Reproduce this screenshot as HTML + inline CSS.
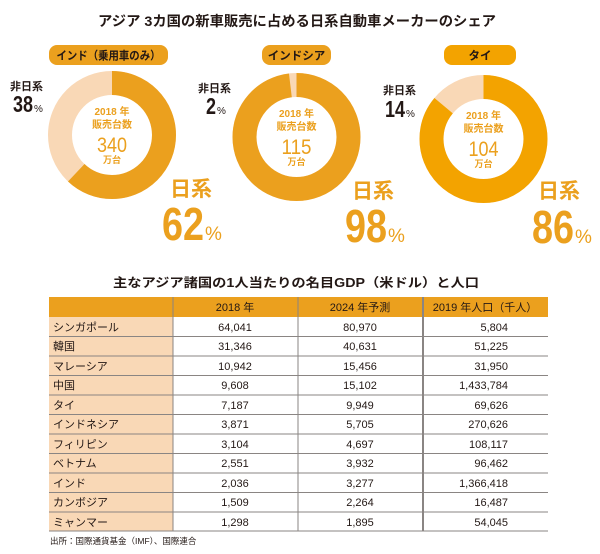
<!DOCTYPE html>
<html><head><meta charset="utf-8"><style>
html,body{margin:0;padding:0;background:#fff;}
svg{display:block;font-family:"Liberation Sans","Noto Sans CJK JP",sans-serif;}
</style></head><body>
<svg width="600" height="554" viewBox="0 0 600 554" xmlns="http://www.w3.org/2000/svg">
<text x="297" y="26" font-size="14" font-weight="bold" text-anchor="middle" fill="#231815" textLength="398" lengthAdjust="spacingAndGlyphs">アジア 3カ国の新車販売に占める日系自動車メーカーのシェア</text>

<!-- pills -->
<rect x="49" y="45" width="119" height="20" rx="8" fill="#EBA01E"/>
<text x="108.5" y="59.5" font-size="11.5" font-weight="bold" text-anchor="middle" fill="#231815" textLength="104" lengthAdjust="spacingAndGlyphs">インド（乗用車のみ）</text>
<rect x="262" y="45" width="69" height="20" rx="8" fill="#EBA01E"/>
<text x="296.5" y="59.5" font-size="11.5" font-weight="bold" text-anchor="middle" fill="#231815">インドシア</text>
<rect x="444" y="45" width="72" height="20" rx="8" fill="#F3A300"/>
<text x="480" y="59.5" font-size="11.5" font-weight="bold" text-anchor="middle" fill="#231815">タイ</text>

<g fill="none" stroke-width="24">
<circle cx="112" cy="135" r="52" stroke="#F9D8B6"/>
<circle cx="112" cy="135" r="52" stroke="#EBA01E" stroke-dasharray="202.6 400" transform="rotate(-90 112 135)"/>
<circle cx="296.5" cy="137" r="52" stroke="#F9D8B6"/>
<circle cx="296.5" cy="137" r="52" stroke="#EBA01E" stroke-dasharray="320.2 400" transform="rotate(-90 296.5 137)"/>
<circle cx="483.5" cy="139" r="52" stroke="#F9D8B6"/>
<circle cx="483.5" cy="139" r="52" stroke="#F3A300" stroke-dasharray="281 400" transform="rotate(-90 483.5 139)"/>
</g>

<g fill="#EBA01E" text-anchor="middle" font-weight="bold">
<text x="112" y="115" font-size="10">2018 年</text>
<text x="112" y="128" font-size="10">販売台数</text>
<text x="112" y="152" font-size="21" font-weight="normal" textLength="30" lengthAdjust="spacingAndGlyphs">340</text>
<text x="112" y="163" font-size="9">万台</text>
<text x="296.5" y="117" font-size="10">2018 年</text>
<text x="296.5" y="130" font-size="10">販売台数</text>
<text x="296.5" y="154" font-size="21" font-weight="normal" textLength="30" lengthAdjust="spacingAndGlyphs">115</text>
<text x="296.5" y="165" font-size="9">万台</text>
<text x="483.5" y="119" font-size="10">2018 年</text>
<text x="483.5" y="132" font-size="10">販売台数</text>
<text x="483.5" y="156" font-size="21" font-weight="normal" textLength="30" lengthAdjust="spacingAndGlyphs">104</text>
<text x="483.5" y="167" font-size="9">万台</text>
</g>

<g fill="#231815">
<text x="10" y="90" font-size="11" font-weight="bold">非日系</text>
<text x="13" y="112" font-size="23" font-weight="bold" textLength="20" lengthAdjust="spacingAndGlyphs">38</text><text x="34" y="112" font-size="10">%</text>
<text x="198" y="92" font-size="11" font-weight="bold">非日系</text>
<text x="206" y="114" font-size="23" font-weight="bold" textLength="10" lengthAdjust="spacingAndGlyphs">2</text><text x="217" y="114" font-size="10">%</text>
<text x="383" y="94" font-size="11" font-weight="bold">非日系</text>
<text x="385" y="117" font-size="23" font-weight="bold" textLength="20" lengthAdjust="spacingAndGlyphs">14</text><text x="406" y="117" font-size="10">%</text>
</g>

<g fill="#EBA01E">
<text x="170" y="196" font-size="21" font-weight="bold">日系</text>
<text x="162" y="240" font-size="46" font-weight="bold" textLength="42" lengthAdjust="spacingAndGlyphs">62</text><text x="205" y="240" font-size="19">%</text>
<text x="352" y="198" font-size="21" font-weight="bold">日系</text>
<text x="345" y="242" font-size="46" font-weight="bold" textLength="42" lengthAdjust="spacingAndGlyphs">98</text><text x="388" y="242" font-size="19">%</text>
<text x="538" y="198" font-size="21" font-weight="bold">日系</text>
<text x="532" y="243" font-size="46" font-weight="bold" textLength="42" lengthAdjust="spacingAndGlyphs">86</text><text x="575" y="243" font-size="19">%</text>
</g>

<text x="296" y="287" font-size="12.5" font-weight="bold" text-anchor="middle" fill="#231815" textLength="366" lengthAdjust="spacingAndGlyphs">主なアジア諸国の1人当たりの名目GDP（米ドル）と人口</text>

<rect x="49" y="297" width="499" height="20" fill="#EBA01E"/>
<rect x="49" y="317" width="124" height="214" fill="#F9D8B6"/>
<g fill="#231815" font-size="11">
<text x="235" y="311" text-anchor="middle">2018 年</text>
<text x="360" y="311" text-anchor="middle">2024 年予測</text>
<text x="485" y="311" text-anchor="middle">2019 年人口（千人）</text>
</g>
<g stroke="#8a8583" stroke-width="1">
<line x1="49" y1="336.5" x2="548" y2="336.5"/>
<line x1="49" y1="356" x2="548" y2="356"/>
<line x1="49" y1="375.5" x2="548" y2="375.5"/>
<line x1="49" y1="395" x2="548" y2="395"/>
<line x1="49" y1="414.5" x2="548" y2="414.5"/>
<line x1="49" y1="434" x2="548" y2="434"/>
<line x1="49" y1="453.5" x2="548" y2="453.5"/>
<line x1="49" y1="473" x2="548" y2="473"/>
<line x1="49" y1="492.5" x2="548" y2="492.5"/>
<line x1="49" y1="512" x2="548" y2="512"/>
<line x1="49" y1="531" x2="548" y2="531"/>
<line x1="173" y1="297" x2="173" y2="531"/>
<line x1="298" y1="297" x2="298" y2="531"/>
<line x1="423" y1="297" x2="423" y2="531" stroke-width="2"/>
</g>
<g fill="#231815" font-size="11">
<g>
<text x="53" y="331">シンガポール</text>
<text x="53" y="350">韓国</text>
<text x="53" y="370">マレーシア</text>
<text x="53" y="389">中国</text>
<text x="53" y="409">タイ</text>
<text x="53" y="428">インドネシア</text>
<text x="53" y="448">フィリピン</text>
<text x="53" y="467">ベトナム</text>
<text x="53" y="487">インド</text>
<text x="53" y="506">カンボジア</text>
<text x="53" y="526">ミャンマー</text>
</g>
<g text-anchor="middle">
<text x="235" y="331">64,041</text><text x="360" y="331">80,970</text>
<text x="235" y="350">31,346</text><text x="360" y="350">40,631</text>
<text x="235" y="370">10,942</text><text x="360" y="370">15,456</text>
<text x="235" y="389">9,608</text><text x="360" y="389">15,102</text>
<text x="235" y="409">7,187</text><text x="360" y="409">9,949</text>
<text x="235" y="428">3,871</text><text x="360" y="428">5,705</text>
<text x="235" y="448">3,104</text><text x="360" y="448">4,697</text>
<text x="235" y="467">2,551</text><text x="360" y="467">3,932</text>
<text x="235" y="487">2,036</text><text x="360" y="487">3,277</text>
<text x="235" y="506">1,509</text><text x="360" y="506">2,264</text>
<text x="235" y="526">1,298</text><text x="360" y="526">1,895</text>
</g>
<g text-anchor="end">
<text x="508" y="331">5,804</text>
<text x="508" y="350">51,225</text>
<text x="508" y="370">31,950</text>
<text x="508" y="389">1,433,784</text>
<text x="508" y="409">69,626</text>
<text x="508" y="428">270,626</text>
<text x="508" y="448">108,117</text>
<text x="508" y="467">96,462</text>
<text x="508" y="487">1,366,418</text>
<text x="508" y="506">16,487</text>
<text x="508" y="526">54,045</text>
</g>
</g>
<text x="50" y="544" font-size="8.5" fill="#231815">出所：国際通貨基金（IMF）、国際連合</text>
</svg>
</body></html>
